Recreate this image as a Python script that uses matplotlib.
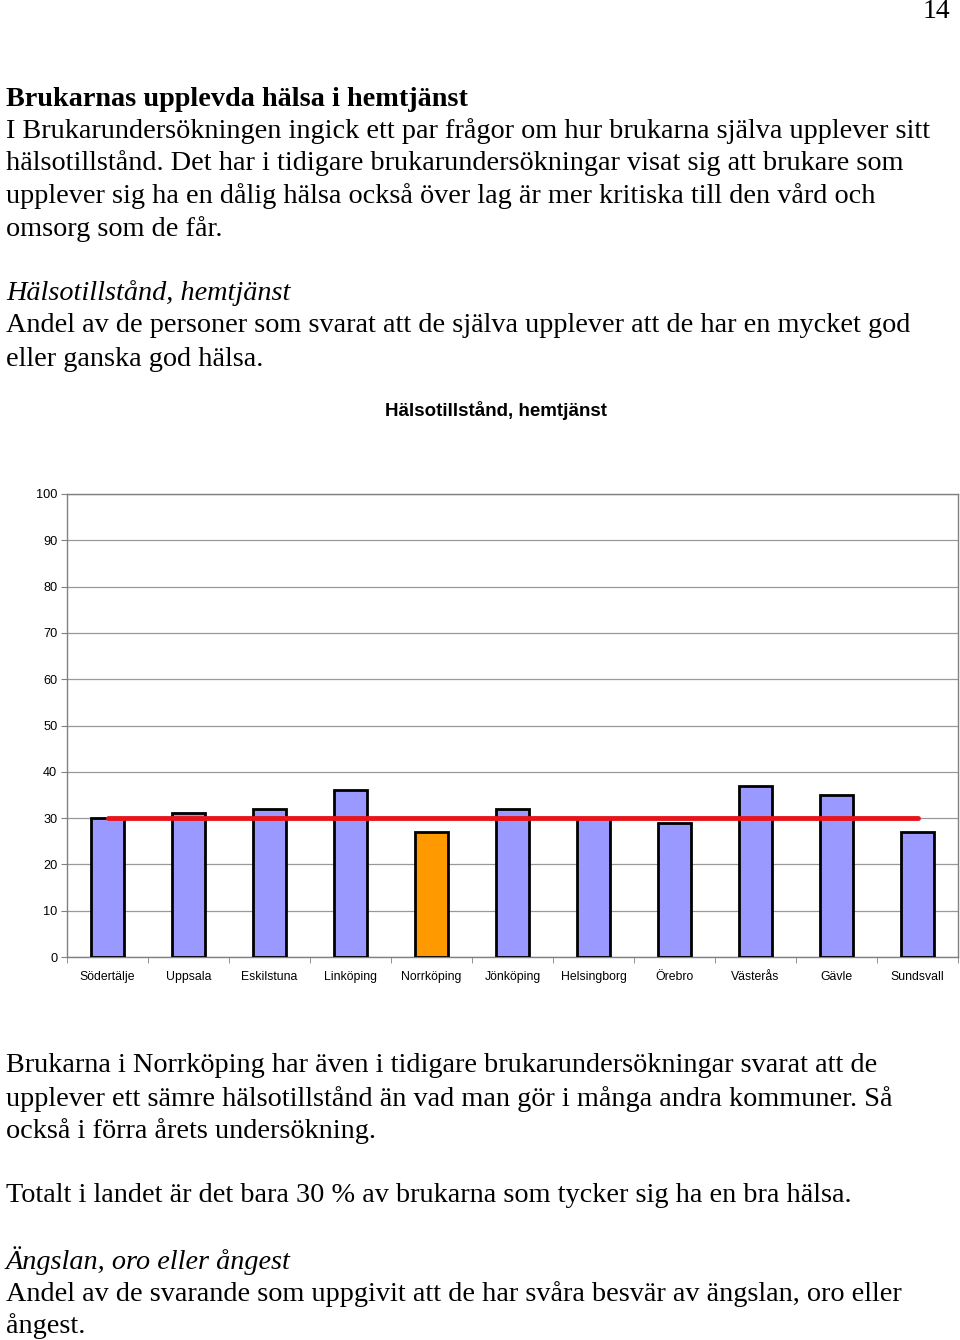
import matplotlib.pyplot as plt
import numpy as np

kommuner = ["Södertälje", "Uppsala", "Eskilstuna", "Linköping", "Norrköping",
            "Jönköping", "Helsingborg", "Örebro", "Västerås", "Gävle", "Sundsvall"]
andel = [30, 31, 32, 36, 27, 32, 30, 29, 37, 35, 27]
riket = 30
highlight = "Norrköping"

text_above = [
    (97, "Brukarnas upplevda hälsa i hemtjänst", "bold", "normal"),
    (129, "I Brukarundersökningen ingick ett par frågor om hur brukarna själva upplever sitt", "normal", "normal"),
    (161, "hälsotillstånd. Det har i tidigare brukarundersökningar visat sig att brukare som", "normal", "normal"),
    (194, "upplever sig ha en dålig hälsa också över lag är mer kritiska till den vård och", "normal", "normal"),
    (227, "omsorg som de får.", "normal", "normal"),
    (291, "Hälsotillstånd, hemtjänst", "normal", "italic"),
    (324, "Andel av de personer som svarat att de själva upplever att de har en mycket god", "normal", "normal"),
    (357, "eller ganska god hälsa.", "normal", "normal"),
]
text_below = [
    (1064, "Brukarna i Norrköping har även i tidigare brukarundersökningar svarat att de", "normal", "normal"),
    (1097, "upplever ett sämre hälsotillstånd än vad man gör i många andra kommuner. Så", "normal", "normal"),
    (1129, "också i förra årets undersökning.", "normal", "normal"),
    (1194, "Totalt i landet är det bara 30 % av brukarna som tycker sig ha en bra hälsa.", "normal", "normal"),
    (1259, "Ängslan, oro eller ångest", "normal", "italic"),
    (1292, "Andel av de svarande som uppgivit att de har svåra besvär av ängslan, oro eller", "normal", "normal"),
    (1324, "ångest.", "normal", "normal"),
]

W, H = 960, 1340
fig = plt.figure(figsize=(W / 100, H / 100), dpi=100)

serif = ["Liberation Serif", "DejaVu Serif"]
sans = ["Liberation Sans", "DejaVu Sans"]
fig.text(950 / W, 1 - 12 / H, "14", ha="right", va="center", fontsize=20, family=serif)
for y, s, w, st in text_above + text_below:
    fig.text(6 / W, 1 - (y + 2) / H, s, ha="left", va="center", fontsize=20.3,
             fontweight=w, fontstyle=st, family=serif)

fig.text(496 / W, 1 - 410 / H, "Hälsotillstånd, hemtjänst", ha="center", va="center",
         fontsize=13.5, fontweight="bold", family=sans)

# axes: left 67, right 958, top 494, bottom 957 (pixels)
ax = fig.add_axes([67 / W, 1 - 957 / H, (958 - 67) / W, (957 - 494) / H])
x = np.arange(len(kommuner))
colors = ["#ff9900" if k == highlight else "#9999ff" for k in kommuner]
ax.bar(x, andel, width=0.41, color=colors, edgecolor="black", linewidth=2, zorder=3)
ax.plot([x[0], x[-1]], [riket, riket], color="#e8141c", linewidth=3.5, zorder=4,
        solid_capstyle="round")

ax.set_xlim(-0.5, len(kommuner) - 0.5)
ax.set_ylim(0, 100)
ax.set_yticks(np.arange(0, 101, 10))
ax.yaxis.grid(True, color="#999999", linewidth=0.9, zorder=0)
ax.set_xticks(x)
ax.set_xticklabels(kommuner)
ax.set_xticks(np.arange(-0.5, len(kommuner), 1), minor=True)
ax.tick_params(axis="x", which="major", length=0, pad=10, labelsize=8.8)
ax.tick_params(axis="x", which="minor", length=4, color="#808080", direction="out")
ax.tick_params(axis="y", length=4, color="#808080", labelsize=9.2, pad=3)
for lab in ax.get_xticklabels() + ax.get_yticklabels():
    lab.set_family(sans)
for sp in ax.spines.values():
    sp.set_color("#808080")
    sp.set_linewidth(1)

fig.savefig("out.png", dpi=100)
